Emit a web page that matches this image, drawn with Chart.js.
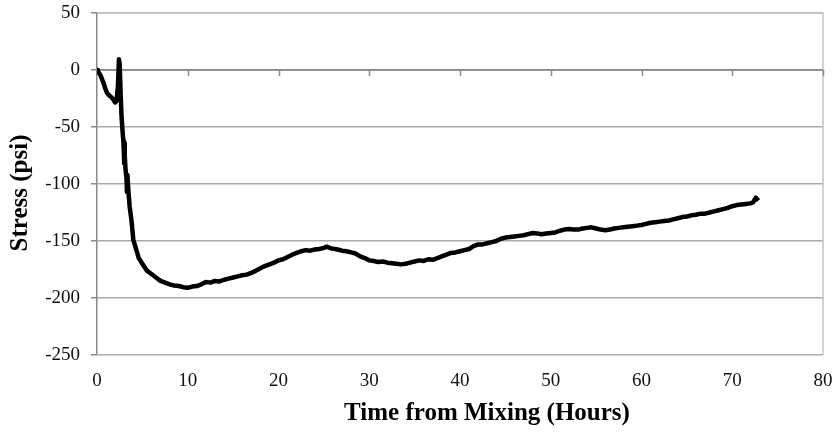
<!DOCTYPE html>
<html>
<head>
<meta charset="utf-8">
<title>Stress vs time from mixing</title>
<script src="https://cdn.jsdelivr.net/npm/chart.js@4/dist/chart.umd.min.js"></script>
<style>
    html, body { margin: 0; padding: 0; background: #fff; }
    #wrap { width: 837px; height: 434px; position: relative; }
</style>
</head>
<body>
<div id="wrap"><canvas id="stressChart" width="837" height="434"></canvas></div>
<script>
// data
const timeHours = [
    0.0, 0.1, 0.4, 0.7, 0.9, 1.1, 1.3, 1.6, 1.8, 2.0, 2.15, 2.3, 2.42, 2.5, 2.6, 2.7, 2.8, 2.9, 2.95, 3.0,
    3.03, 3.08, 3.15, 3.25, 3.3, 3.35, 3.45, 3.6, 3.8, 4.0, 4.3, 4.6, 5.0, 5.5, 6.0, 6.5, 7.0, 7.5, 8.0, 8.5,
    9.0, 9.5, 10.0, 10.5, 11.0, 11.5, 12.0, 12.5, 13.0, 13.5, 14.0, 14.5, 15.0, 15.5, 16.0, 16.5, 17.0, 17.5, 18.0, 18.5,
    19.0, 19.5, 20.0, 20.5, 21.0, 21.5, 22.0, 22.5, 23.0, 23.5, 24.0, 24.5, 25.0, 25.3, 25.8, 26.5, 27.0, 27.5, 28.0, 28.5,
    29.0, 29.5, 30.0, 30.5, 31.0, 31.5, 32.0, 32.5, 33.0, 33.5, 34.0, 34.5, 35.0, 35.5, 36.0, 36.5, 37.0, 37.5, 38.0, 38.5,
    39.0, 39.5, 40.0, 40.5, 41.0, 41.5, 42.0, 42.5, 43.0, 43.5, 44.0, 44.5, 45.0, 45.5, 46.0, 46.5, 47.0, 47.5, 48.0, 48.5,
    49.0, 49.5, 50.0, 50.5, 51.0, 51.5, 52.0, 52.5, 53.0, 53.5, 54.0, 54.5, 55.0, 55.5, 56.0, 56.5, 57.0, 57.5, 58.0, 58.5,
    59.0, 59.5, 60.0, 60.5, 61.0, 61.5, 62.0, 62.5, 63.0, 63.5, 64.0, 64.5, 65.0, 65.5, 66.0, 66.5, 67.0, 67.5, 68.0, 68.5,
    69.0, 69.5, 70.0, 70.5, 71.0, 71.5, 72.0, 72.3, 72.6, 72.9
];
const stressPsi = [
    0, -1, -5, -11, -16, -20, -22, -24, -26, -28.5, -27, -15, 9.5, 5, -20, -40, -52, -62, -70, -82,
    -64, -75, -88, -95, -107, -92, -105, -120, -132, -149, -157, -165, -170, -176, -179, -182, -185, -186.5, -188, -189,
    -189.5, -190.5, -191, -190, -189.5, -188, -186, -186.5, -185, -185.5, -184, -183, -182, -181, -180, -179.5, -178, -176, -174, -172,
    -170.5, -169, -167, -166, -164, -162, -160.5, -159, -158, -158.5, -157.5, -157, -156, -155, -156.5, -157.5, -158.5, -159, -160, -161,
    -163.5, -165, -167, -167.5, -168.5, -168, -169, -169.5, -170, -170.5, -170, -169, -168, -167, -167.5, -166, -166.5, -165, -163.5, -162,
    -160.5, -160, -159, -158, -157, -154.5, -153, -153, -152, -151, -150, -148, -147, -146.5, -146, -145.5, -145, -144, -143, -143.5,
    -144, -143.5, -143, -142.5, -141, -140, -139.5, -140, -140, -139, -138.5, -138, -139, -140, -140.5, -140, -139, -138.5, -138, -137.5,
    -137, -136.5, -136, -135, -134, -133.5, -133, -132.5, -132, -131, -130, -129, -128.5, -127.5, -127, -126, -126, -125, -124, -123,
    -122, -121, -119.5, -118.5, -118, -117.5, -117, -116, -112, -114.5
];
const xTicks = [0, 10, 20, 30, 40, 50, 60, 70, 80];
const yTicks = [50, 0, -50, -100, -150, -200, -250];
const xTitle = 'Time from Mixing (Hours)';
const yTitle = 'Stress (psi)';

const points = timeHours.map((t, i) => ({ x: t, y: stressPsi[i] }));

// axis titles + small tick marks on the zero line (Excel style)
const decorPlugin = {
    id: 'decor',
    beforeDatasetsDraw(chart) {
        const ctx = chart.ctx;
        const xs = chart.scales.x;
        const ys = chart.scales.y;
        const area = chart.chartArea;
        ctx.save();
        // plot border
        ctx.strokeStyle = '#c4c4c4';
        ctx.lineWidth = 1.5;
        ctx.beginPath();
        ctx.moveTo(area.left, area.top);
        ctx.lineTo(area.right, area.top);
        ctx.lineTo(area.right, area.bottom);
        ctx.stroke();
        // horizontal axis sits at y = 0
        const y0 = ys.getPixelForValue(0);
        ctx.strokeStyle = '#8a8a8a';
        ctx.lineWidth = 1.5;
        ctx.beginPath();
        ctx.moveTo(area.left, y0);
        ctx.lineTo(area.right, y0);
        xTicks.forEach(v => {
            if (v === 0) return;
            const px = Math.round(xs.getPixelForValue(v)) + 0.5;
            ctx.moveTo(px, y0);
            ctx.lineTo(px, y0 + 6);
        });
        ctx.stroke();
        ctx.restore();
    },
    afterDraw(chart) {
        const ctx = chart.ctx;
        ctx.save();
        ctx.fillStyle = '#000';
        ctx.font = 'bold 25px "Liberation Serif", "Times New Roman", serif';
        ctx.textAlign = 'center';
        ctx.textBaseline = 'middle';
        ctx.fillText(xTitle, 487, 414);
        ctx.translate(21, 193);
        ctx.rotate(-Math.PI / 2);
        ctx.fillText(yTitle, 0, 0);
        ctx.restore();
    }
};

new Chart(document.getElementById('stressChart').getContext('2d'), {
    type: 'line',
    data: {
        datasets: [{
            data: points,
            borderColor: '#000',
            borderWidth: 4.5,
            borderJoinStyle: 'round',
            pointRadius: 0,
            tension: 0,
            fill: false
        }]
    },
    options: {
        responsive: false,
        animation: false,
        layout: { padding: { left: 0, right: 14, top: 13, bottom: 0 } },
        plugins: {
            legend: { display: false },
            tooltip: { enabled: false }
        },
        scales: {
            x: {
                type: 'linear',
                min: 0,
                max: 80,
                afterFit: s => { s.height = 79; s.paddingLeft = 0; s.paddingRight = 0; },
                afterBuildTicks: s => { s.ticks = xTicks.map(v => ({ value: v })); },
                grid: { display: false, drawTicks: false },
                border: { display: false },
                ticks: {
                    padding: 15,
                    color: '#111',
                    font: { family: '"Liberation Serif", "Times New Roman", serif', size: 19 }
                }
            },
            y: {
                type: 'linear',
                min: -250,
                max: 50,
                afterFit: s => { s.width = 97; s.paddingTop = 0; s.paddingBottom = 0; },
                afterBuildTicks: s => { s.ticks = yTicks.map(v => ({ value: v })); },
                grid: {
                    color: ctx => ctx.tick && ctx.tick.value === 0 ? '#8a8a8a' : '#acacac',
                    lineWidth: 1.5,
                    tickLength: 6,
                    tickColor: '#8a8a8a'
                },
                border: { display: true, color: '#8a8a8a', width: 1.5 },
                ticks: {
                    padding: 11,
                    color: '#111',
                    font: { family: '"Liberation Serif", "Times New Roman", serif', size: 19 }
                }
            }
        }
    },
    plugins: [decorPlugin]
});
</script>
</body>
</html>
